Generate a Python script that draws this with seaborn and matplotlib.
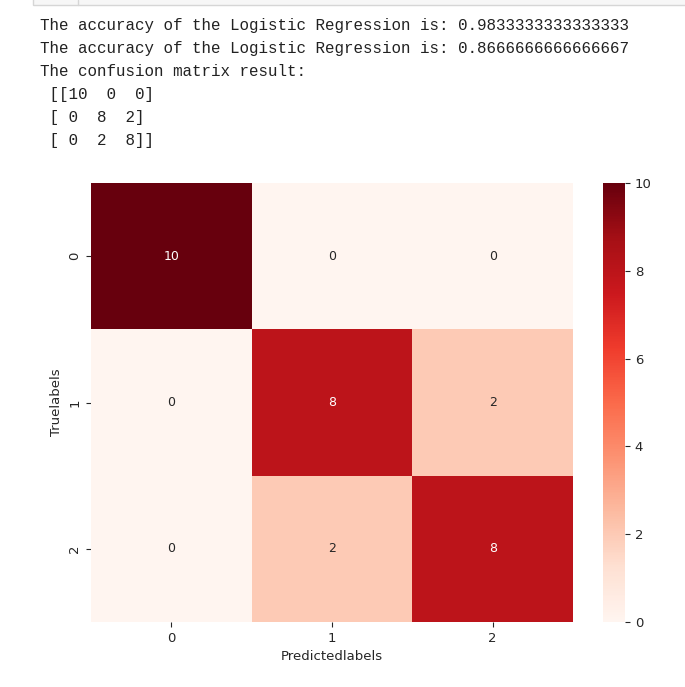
import numpy as np
import matplotlib
matplotlib.use("Agg")
import matplotlib.pyplot as plt
from matplotlib.lines import Line2D
from matplotlib.patches import Rectangle
import seaborn as sns

sns.set_style("white")
plt.rcParams["font.family"] = ["DejaVu Sans"]

# data
class_labels = ["0", "1", "2"]
conf_matrix = np.array([[10, 0, 0],
                        [0, 8, 2],
                        [0, 2, 8]])
train_acc = 0.9833333333333333
test_acc = 0.8666666666666667

W, H = 685, 687
fig = plt.figure(figsize=(W / 100, H / 100), dpi=100)

# printed output above the plot (notebook cell text)
lines = [
    f"The accuracy of the Logistic Regression is: {train_acc}",
    f"The accuracy of the Logistic Regression is: {test_acc}",
    "The confusion matrix result:",
    " " + str(conf_matrix),
]
out_text = "\n".join(lines)
fig.text(40 / W, 1 - 18 / H, out_text, ha="left", va="top",
         family="Liberation Mono", fontsize=11.4, color="#222222",
         linespacing=1.66)

# bottom of the notebook input cell
fig.add_artist(Rectangle((33 / W, 1 - 5 / H), 1, 10 / H, facecolor="#f7f7f7",
                         edgecolor="#d6d6d6", lw=1))
fig.add_artist(Line2D([78 / W, 78 / W], [1 - 5 / H, 1], color="#d6d6d6", lw=1))

# heatmap
ax = fig.add_axes([91 / W, 1 - 622 / H, (573 - 91) / W, (622 - 183) / H])
cax = fig.add_axes([603 / W, 1 - 622 / H, 22 / W, (622 - 183) / H])
sns.heatmap(conf_matrix, annot=True, fmt="d", cmap="Reds", ax=ax, cbar_ax=cax,
            xticklabels=class_labels, yticklabels=class_labels,
            annot_kws={"fontsize": 9})
ax.set_xlabel("Predictedlabels", fontsize=9.5, color="#262626")
ax.set_ylabel("Truelabels", fontsize=9.5, color="#262626")
ax.tick_params(axis="both", length=3.5, width=0.8, labelsize=9.5,
               left=True, bottom=True, colors="#262626")
plt.setp(ax.get_yticklabels(), rotation=90, va="center")
plt.setp(ax.get_xticklabels(), rotation=0)
cax.tick_params(labelsize=9.5, length=3.5, width=0.8, right=True, colors="#262626")
for s in cax.spines.values():
    s.set_visible(False)

fig.savefig("out.png", dpi=100)
